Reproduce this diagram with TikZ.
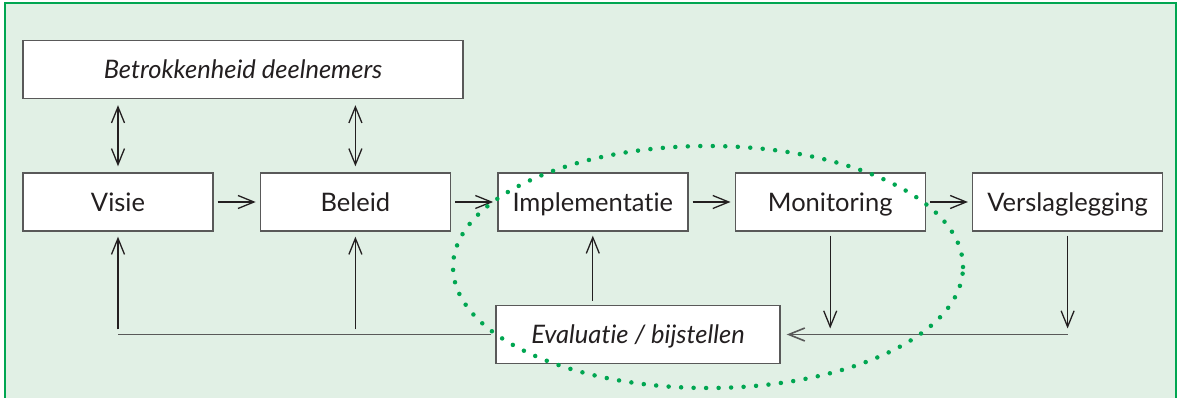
\documentclass[tikz,border=0pt]{standalone}
\usepackage{fontspec}
\setmainfont{Lato}[Ligatures=NoCommon]
\usetikzlibrary{positioning,arrows.meta}

\definecolor{frameGreen}{RGB}{0,166,81}
\definecolor{bgGreen}{RGB}{225,240,229}
\definecolor{ink}{RGB}{35,31,32}

\begin{document}
\begin{tikzpicture}[x=1pt, y=-1pt, node distance=46pt,
		>={Straight Barb[length=16pt,width=13pt]},
		box/.style = {draw=black!65, line width=1.4pt, fill=white, text=ink, inner sep=0pt,
			text height=18.5pt, text depth=0pt,
			minimum width=190pt, minimum height=58pt, font=\fontsize{25.5}{30}\selectfont},
		ital/.style = {font=\fontsize{25.5}{30}\selectfont\itshape},
		arr/.style = {draw=ink, line width=1.3pt},
		link/.style = {draw=black!65, line width=1.6pt}]
		\useasboundingbox (0,0) rectangle (1179,398);
		\fill[bgGreen] (5,3) rectangle (1176,402);
		\draw[frameGreen, line width=1.5pt] (5,402) -- (5,3) -- (1176,3) -- (1176,402);

		\node[box, ital, minimum width=440pt] (betr) at (243,69.5) {Betrokkenheid deelnemers};
		\node[box] (visie) at (118,202) {Visie};
		\node[box, right=of visie] (beleid) {Beleid};
		\node[box, right=of beleid] (impl) {Implementatie};
		\node[box, right=of impl] (mon) {Monitoring};
		\node[box, right=of mon] (vers) {Verslaglegging};
		\node[box, ital, minimum width=284pt] (eval) at (638,334.5) {Evaluatie / bijstellen};

		\draw[arr, <->, shorten <=6pt, shorten >=6pt] (visie.north) -- (visie.north |- betr.south);
		\draw[arr, <->, shorten <=6pt, shorten >=6pt] (beleid.north) -- (beleid.north |- betr.south);

		\draw[arr, ->, shorten <=4pt, shorten >=4pt] (visie) -- (beleid);
		\draw[arr, ->, shorten <=4pt, shorten >=4pt] (beleid) -- (impl);
		\draw[arr, ->, shorten <=4pt, shorten >=4pt] (impl) -- (mon);
		\draw[arr, ->, shorten <=4pt, shorten >=4pt] (mon) -- (vers);

		\draw[arr, ->, shorten <=4pt, shorten >=4pt] (impl.south |- eval.north) -- (impl.south);
		\draw[arr, ->, shorten <=4pt] (mon.south) -- ([yshift=6pt]mon.south |- eval.east);
		\draw[arr, ->, shorten <=4pt] (vers.south) -- ([yshift=6pt]vers.south |- eval.east);
		\draw[link, ->, shorten >=6pt] (vers.south |- eval.east) -- (eval.east);

		\draw[link, shorten <=4pt] (eval.west) -- (visie.south |- eval.west);
		\draw[arr, ->, shorten <=5pt, shorten >=5pt] (visie.south |- eval.west) -- (visie.south);
		\draw[arr, ->, shorten <=5pt, shorten >=5pt] (beleid.south |- eval.west) -- (beleid.south);

		\draw[frameGreen, line width=4.5pt, line cap=round, dash pattern=on 0pt off 12.5pt]
			(708,267) ellipse [x radius=255pt, y radius=121pt];
	\end{tikzpicture}
\end{document}
